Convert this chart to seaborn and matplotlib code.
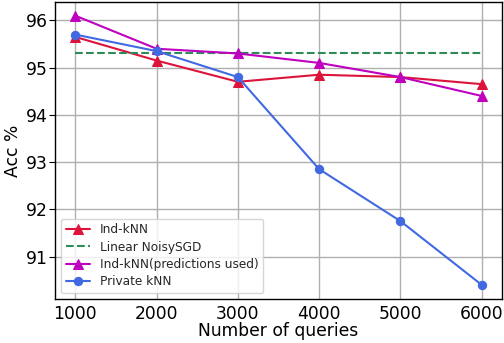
import matplotlib
matplotlib.use("Agg")
import matplotlib.pyplot as plt
import seaborn as sns
import pandas as pd

queries = [1000, 2000, 3000, 4000, 5000, 6000]
ind_knn = [95.65, 95.15, 94.7, 94.85, 94.8, 94.65]
linear_noisysgd = [95.3, 95.3, 95.3, 95.3, 95.3, 95.3]
ind_knn_pred = [96.1, 95.4, 95.3, 95.1, 94.8, 94.4]
private_knn = [95.7, 95.35, 94.8, 92.85, 91.75, 90.4]

sns.set_theme(style="whitegrid")
plt.rcParams['font.family'] = ['DejaVu Sans']

fig = plt.figure(figsize=(5.04, 3.43), dpi=100)
ax = fig.add_axes([55/504, 44/343, 447/504, 297/343])

magenta = (0.75, 0.0, 0.75)
sns.lineplot(x=queries, y=ind_knn, ax=ax, color='crimson', marker='^', markersize=7,
             markeredgecolor='crimson', label='Ind-kNN')
sns.lineplot(x=queries, y=linear_noisysgd, ax=ax, color='seagreen', linestyle='--',
             label='Linear NoisySGD')
sns.lineplot(x=queries, y=ind_knn_pred, ax=ax, color=magenta, marker='^', markersize=7,
             markeredgecolor=magenta, label='Ind-kNN(predictions used)')
sns.lineplot(x=queries, y=private_knn, ax=ax, color='royalblue', marker='o', markersize=6,
             markeredgecolor='royalblue', label='Private kNN')

ax.set_xlim(750, 6250)
ax.set_ylim(90.1, 96.39)
ax.set_xticks(queries)
ax.set_yticks([91, 92, 93, 94, 95, 96])
ax.tick_params(axis='x', labelsize=12.3, colors='black', length=0, pad=4.5)
ax.tick_params(axis='y', labelsize=12.3, colors='black', length=4, pad=1, left=True, width=0.8)
ax.set_xlabel('Number of queries', fontsize=12.3, color='black', labelpad=-1)
ax.set_ylabel('Acc %', fontsize=12.3, color='black', labelpad=3)
for s in ax.spines.values():
    s.set_color('black')
    s.set_linewidth(1.0)
ax.grid(True, color='#b0b0b0', linewidth=1.0)
leg = ax.legend(loc='lower left', fontsize=8.7, frameon=True, labelspacing=0.35,
                borderaxespad=0.5)

fig.savefig('out.png', dpi=100)
